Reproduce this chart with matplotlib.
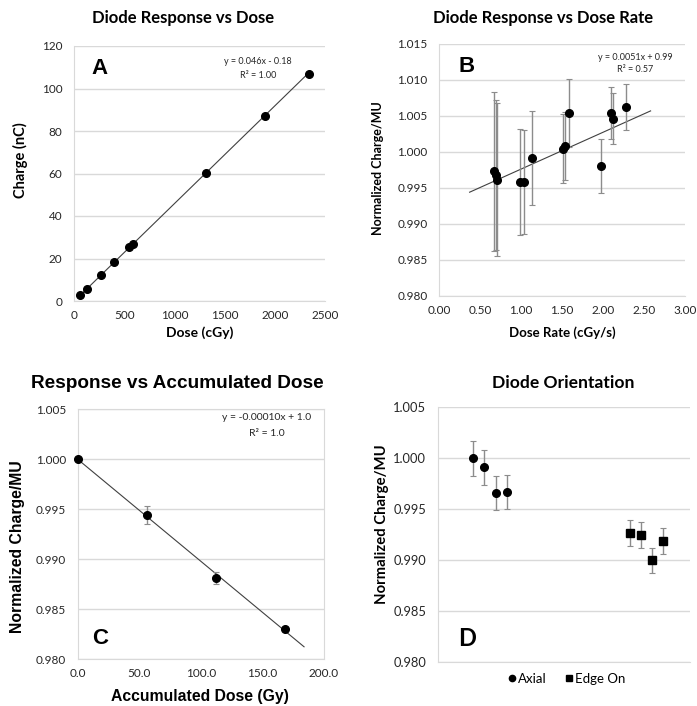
import matplotlib
matplotlib.use("Agg")
import matplotlib.pyplot as plt
from matplotlib.lines import Line2D
import numpy as np

# panel A: charge vs dose
dose_a = [60, 126, 269, 399, 551, 585, 1316, 1904, 2336]
charge_a = [3.0, 5.8, 12.4, 18.3, 25.3, 26.7, 60.2, 87.1, 107.0]
fit_a = (0.046, -0.18)

# panel B: response vs dose rate
rate_b = [0.67, 0.69, 0.70, 0.98, 1.03, 1.13, 1.51, 1.53, 1.58, 1.97, 2.10, 2.12, 2.28]
resp_b = [0.9973, 0.9968, 0.9961, 0.9958, 0.9958, 0.9991, 1.0004, 1.0008, 1.0054,
          0.9980, 1.0054, 1.0046, 1.0062]
err_b = [0.0110, 0.0104, 0.0106, 0.0074, 0.0072, 0.0065, 0.0048, 0.0047, 0.0047,
         0.0037, 0.0036, 0.0035, 0.0032]
fit_b = (0.0051, 0.9925)
fit_b_range = (0.37, 2.58)

# panel C: response vs accumulated dose
acc_c = [0.0, 56.0, 112.3, 168.6]
resp_c = [1.0000, 0.9944, 0.9881, 0.9830]
err_c = [0.0001, 0.0009, 0.0006, 0.0002]
fit_c = (-0.000102, 1.0000)
fit_c_range = (0.0, 183.8)

# panel D: orientation
axial_x = [3, 4, 5, 6]
axial_y = [1.0000, 0.9991, 0.9966, 0.9967]
axial_err = [0.0017, 0.0017, 0.0017, 0.0017]
edge_x = [17, 18, 19, 20]
edge_y = [0.9927, 0.9925, 0.9900, 0.9919]
edge_err = [0.00125, 0.0013, 0.00125, 0.00127]

W, H = 697, 706
CAL = "Lato"
ARI = "Liberation Sans"
GRID = "#d9d9d9"
TXT = "#262626"

fig = plt.figure(figsize=(W / 100, H / 100), dpi=100)


def px(x, y):
    return x / W, 1 - y / H


def make_axes(x0, y0, x1, y1, tsize=8.5):
    ax = fig.add_axes([x0 / W, 1 - y1 / H, (x1 - x0) / W, (y1 - y0) / H])
    ax.set_axisbelow(True)
    ax.yaxis.grid(True, color=GRID, lw=1.0)
    for s in ["top", "right"]:
        ax.spines[s].set_visible(False)
    for s in ["left", "bottom"]:
        ax.spines[s].set_color(GRID)
    ax.tick_params(length=0, labelsize=tsize, labelcolor=TXT)
    ax.tick_params(axis="x", pad=6.5)
    ax.tick_params(axis="y", pad=8.5)
    return ax


def fix_ticks(ax):
    for lab in ax.get_xticklabels() + ax.get_yticklabels():
        lab.set_family(CAL)


ebar = dict(color="black", ms=5.5, ecolor="#8c8c8c", elinewidth=1.0,
            capsize=2.5, capthick=0.8)

# ---- A ----
axA = make_axes(74, 46, 325, 301)
xs = np.array([min(dose_a), max(dose_a)])
axA.plot(xs, fit_a[0] * xs + fit_a[1], color="#404040", lw=0.8, zorder=2)
axA.plot(dose_a, charge_a, "o", color="black", ms=5.5, zorder=3)
axA.set_xlim(0, 2500)
axA.set_ylim(0, 120)
axA.set_xticks(np.arange(0, 2501, 500))
axA.set_yticks(np.arange(0, 121, 20))
fix_ticks(axA)

# ---- B ----
axB = make_axes(439.3, 43.5, 685, 296)
xs = np.array(fit_b_range)
axB.plot(xs, fit_b[0] * xs + fit_b[1], color="#404040", lw=0.8, zorder=2)
axB.errorbar(rate_b, resp_b, yerr=err_b, fmt="o", zorder=3, **ebar)
axB.set_xlim(0, 3)
axB.set_ylim(0.980, 1.015)
axB.set_xticks(np.arange(0, 3.01, 0.5))
axB.set_yticks(np.arange(0.980, 1.0151, 0.005))
axB.xaxis.set_major_formatter(matplotlib.ticker.FormatStrFormatter("%.2f"))
axB.yaxis.set_major_formatter(matplotlib.ticker.FormatStrFormatter("%.3f"))
fix_ticks(axB)

# ---- C ----
axC = make_axes(77.7, 409.3, 324, 659.3)
for s in ["top", "right"]:
    axC.spines[s].set_visible(True)
    axC.spines[s].set_color(GRID)
xs = np.array(fit_c_range)
axC.plot(xs, fit_c[0] * xs + fit_c[1], color="#404040", lw=0.8, zorder=2)
axC.errorbar(acc_c, resp_c, yerr=err_c, fmt="o", zorder=3, clip_on=False, **ebar)
axC.set_xlim(0, 200)
axC.set_ylim(0.980, 1.005)
axC.set_xticks(np.arange(0, 201, 50))
axC.set_yticks(np.arange(0.980, 1.0051, 0.005))
axC.xaxis.set_major_formatter(matplotlib.ticker.FormatStrFormatter("%.1f"))
axC.yaxis.set_major_formatter(matplotlib.ticker.FormatStrFormatter("%.3f"))
fix_ticks(axC)

# ---- D ----
axD = make_axes(438, 407.3, 690, 662.3, tsize=9.3)
axD.errorbar(axial_x, axial_y, yerr=axial_err, fmt="o", **ebar)
axD.errorbar(edge_x, edge_y, yerr=edge_err, fmt="s", **ebar)
axD.set_xlim(-0.15, 22.4)
axD.set_ylim(0.980, 1.005)
axD.set_xticks([])
axD.set_yticks(np.arange(0.980, 1.0051, 0.005))
axD.yaxis.set_major_formatter(matplotlib.ticker.FormatStrFormatter("%.3f"))
fix_ticks(axD)
handles = [Line2D([], [], ls="none", marker="o", color="black", ms=4.5),
           Line2D([], [], ls="none", marker="s", color="black", ms=4.5)]
axD.legend(handles, ["Axial", "Edge On"], loc="center",
           bbox_to_anchor=px(567, 679), bbox_transform=fig.transFigure,
           ncol=2, frameon=False, handletextpad=0.15, columnspacing=1.4,
           handlelength=0.6, prop={"family": CAL, "size": 9.5})

# titles
fig.text(*px(183, 18), "Diode Response vs Dose", ha="center", va="center",
         family=CAL, weight="bold", fontsize=12)
fig.text(*px(543, 18), "Diode Response vs Dose Rate", ha="center", va="center",
         family=CAL, weight="bold", fontsize=12)
fig.text(*px(177, 383), "Response vs Accumulated Dose", ha="center", va="center",
         family=ARI, weight="bold", fontsize=13.7)
fig.text(*px(563, 383), "Diode Orientation", ha="center", va="center",
         family=CAL, weight="bold", fontsize=12.6)

# axis labels
fig.text(*px(200, 333), "Dose (cGy)", ha="center", va="center", family=CAL,
         weight="bold", fontsize=10)
fig.text(*px(20, 160), "Charge (nC)", ha="center", va="center", family=CAL,
         weight="bold", fontsize=10.5, rotation=90)
fig.text(*px(562, 333), "Dose Rate (cGy/s)", ha="center", va="center", family=CAL,
         weight="bold", fontsize=9.5)
fig.text(*px(378, 168), "Normalized Charge/MU", ha="center", va="center", family=CAL,
         weight="bold", fontsize=9, rotation=90)
fig.text(*px(200, 697), "Accumulated Dose (Gy)", ha="center", va="center", family=ARI,
         weight="bold", fontsize=11.3)
fig.text(*px(18, 547), "Normalized Charge/MU", ha="center", va="center", family=ARI,
         weight="bold", fontsize=11.3, rotation=90)
fig.text(*px(382, 524), "Normalized Charge/MU", ha="center", va="center", family=CAL,
         weight="bold", fontsize=10.7, rotation=90)

# panel letters
fig.text(*px(100, 68), "A", ha="center", va="center", family=ARI, weight="bold", fontsize=16)
fig.text(*px(467, 67), "B", ha="center", va="center", family=ARI, weight="bold", fontsize=16)
fig.text(*px(100, 639), "C", ha="center", va="center", family=ARI, weight="bold", fontsize=16)
fig.text(*px(467, 638), "D", ha="center", va="center", family=CAL, weight="bold", fontsize=17)

# fit equations
fig.text(*px(258, 62), "y = 0.046x - 0.18", ha="center", va="center", family=CAL,
         fontsize=6.5, color=TXT)
fig.text(*px(258, 75), "R² = 1.00", ha="center", va="center", family=CAL,
         fontsize=6.5, color=TXT)
fig.text(*px(635, 57), "y = 0.0051x + 0.99", ha="center", va="center", family=CAL,
         fontsize=6.5, color=TXT)
fig.text(*px(635, 70), "R² = 0.57", ha="center", va="center", family=CAL,
         fontsize=6.5, color=TXT)
fig.text(*px(267, 418), "y = -0.00010x + 1.0", ha="center", va="center", family=CAL,
         fontsize=7.5, color=TXT)
fig.text(*px(267, 434), "R² = 1.0", ha="center", va="center", family=CAL,
         fontsize=7.5, color=TXT)

fig.savefig("out.png", dpi=100)
